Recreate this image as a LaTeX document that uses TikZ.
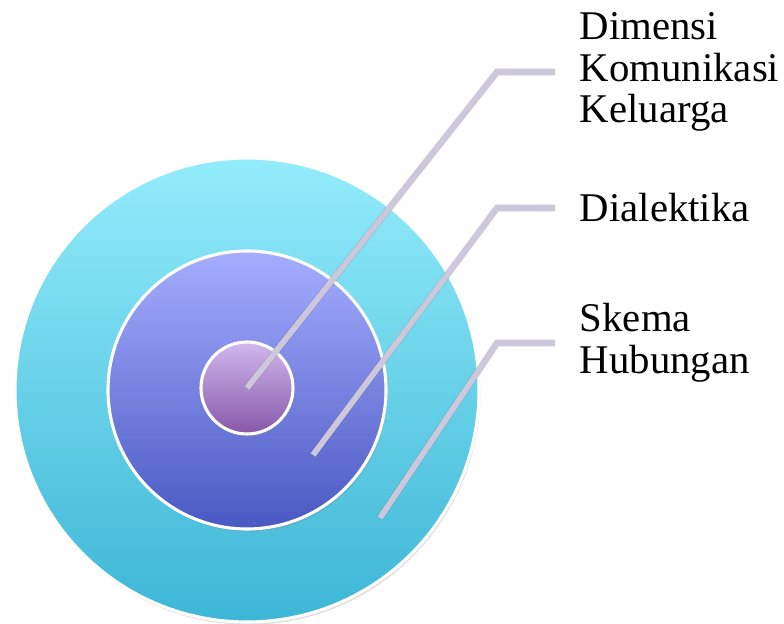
\documentclass[tikz,border=0pt]{standalone}
\usepackage{fontspec}
\setmainfont{Liberation Serif}
\usetikzlibrary{shadows}
\definecolor{ringtop}{HTML}{93ECFB}
\definecolor{ringbot}{HTML}{3DB6D6}
\definecolor{midtop}{HTML}{A5ADFE}
\definecolor{midbot}{HTML}{4A58C2}
\definecolor{coretop}{HTML}{D0B8EE}
\definecolor{corebot}{HTML}{8657A8}
\definecolor{stick}{HTML}{CCC7DB}
\tikzset{
  ring/.style={circle, draw=white, line width=2.2pt, inner sep=0pt,
    drop shadow={opacity=0.25, shadow xshift=1pt, shadow yshift=-2pt}},
  pointer/.style={stick, line width=4.2pt, line cap=butt},
  pshadow/.style={black, opacity=0.12, line width=5pt},
  lab/.style={anchor=west, align=left, inner xsep=17.5pt, inner ysep=0pt,
    font=\fontsize{29}{29.8}\selectfont}
}
\begin{document}
\begin{tikzpicture}[x=0.025cm, y=0.025cm]
    \useasboundingbox (0,0) rectangle (784,624);
    % circles
    \node[ring, minimum size=464*0.025cm, top color=ringtop, bottom color=ringbot] (outer) at (247,234) {};
    \node[ring, minimum size=278*0.025cm, top color=midtop, bottom color=midbot] (mid) at (247,234) {};
    \node[ring, minimum size=92*0.025cm, top color=coretop, bottom color=corebot] (core) at (247,236) {};
    % labels
    \node[lab] (l1) at (555,552) {Dimensi\\Komunikasi\\Keluarga};
    \node[lab] (l2) at (555,416) {Dialektika};
    \node[lab] (l3) at (555,281) {Skema\\Hubungan};
    % pointers
    \coordinate (p1) at (247,236); \coordinate (k1) at (497,552);
    \coordinate (p2) at (313,169); \coordinate (k2) at (497,416);
    \coordinate (p3) at (380,106); \coordinate (k3) at (497,281);
\foreach \i in {1,2,3}
{
    \draw[pshadow, shift={(2,-3)}] (p\i)--(k\i)--(l\i.west);
    \draw[pointer] (p\i)--(k\i)--(l\i.west);
}
\end{tikzpicture}
\end{document}
